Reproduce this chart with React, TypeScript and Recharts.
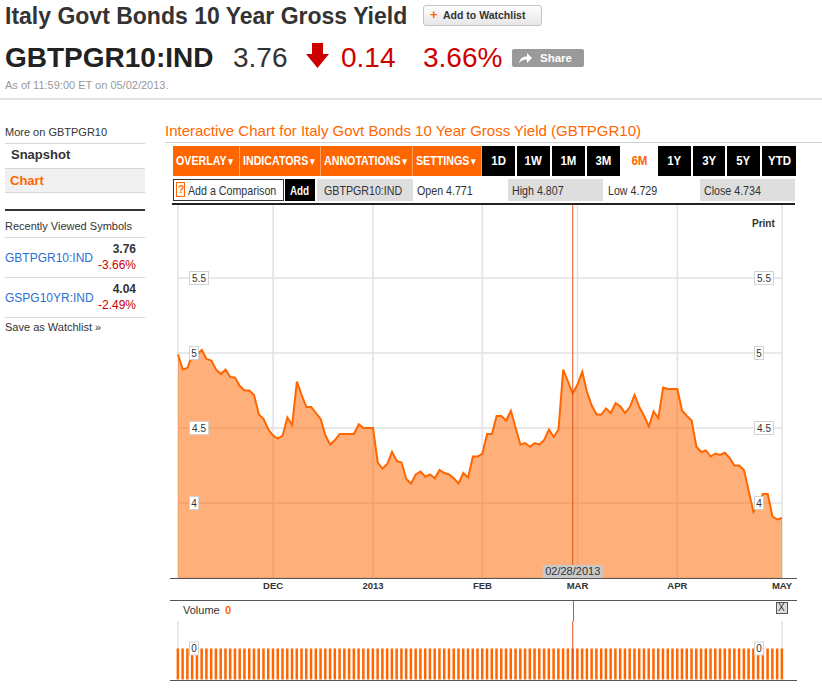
import React from "react";
import {
  AreaChart,
  Area,
  BarChart,
  Bar,
  XAxis,
  YAxis,
  CartesianGrid,
  ReferenceLine,
} from "recharts";

// daily gross yield, Nov 2012 -> May 2013 (one value per trading day)
const yields = [
  4.99, 4.89, 4.9, 4.99, 4.99, 5.02, 4.96, 4.95, 4.89, 4.86,
  4.89, 4.84, 4.835, 4.78, 4.75, 4.75, 4.72, 4.59, 4.56, 4.49,
  4.45, 4.43, 4.45, 4.57, 4.52, 4.81, 4.72, 4.64, 4.64, 4.6,
  4.56, 4.45, 4.39, 4.42, 4.46, 4.46, 4.46, 4.46, 4.525, 4.5,
  4.5, 4.5, 4.27, 4.23, 4.26, 4.34, 4.28, 4.27, 4.16, 4.13,
  4.19, 4.21, 4.175, 4.19, 4.165, 4.22, 4.2, 4.19, 4.165, 4.13,
  4.2, 4.17, 4.31, 4.31, 4.33, 4.46, 4.46,
  4.58, 4.58, 4.55, 4.615, 4.5, 4.39, 4.4, 4.375, 4.4, 4.39,
  4.42, 4.49, 4.44, 4.49, 4.89, 4.81, 4.73, 4.79, 4.875, 4.74,
  4.65, 4.59, 4.59, 4.63, 4.6, 4.665, 4.645, 4.6, 4.64, 4.72,
  4.64, 4.58, 4.51, 4.61, 4.565, 4.77, 4.76, 4.76, 4.76, 4.615,
  4.58, 4.55, 4.375, 4.34, 4.35, 4.31, 4.33, 4.32, 4.335, 4.3,
  4.25, 4.25, 4.22, 4.08, 3.94, 3.99, 4.06, 4.06, 3.91, 3.89, 3.9,
];

const volumes = [
  0, 0, 0, 0, 0, 0, 0, 0, 0, 0, 0, 0, 0, 0, 0, 0,
  0, 0, 0, 0, 0, 0, 0, 0, 0, 0, 0, 0, 0, 0, 0, 0,
  0, 0, 0, 0, 0, 0, 0, 0, 0, 0, 0, 0, 0, 0, 0, 0,
  0, 0, 0, 0, 0, 0, 0, 0, 0, 0, 0, 0, 0, 0, 0, 0,
  0, 0, 0, 0, 0, 0, 0, 0, 0, 0, 0, 0, 0, 0, 0, 0,
  0, 0, 0, 0, 0, 0, 0, 0, 0, 0, 0, 0, 0, 0, 0, 0,
  0, 0, 0, 0, 0, 0, 0, 0, 0, 0, 0, 0, 0, 0, 0, 0,
  0, 0, 0, 0, 0, 0, 0, 0, 0, 0, 0, 0, 0, 0, 0, 0,
];

const monthTicks = [0, 20, 41, 64, 84, 105, 127];
const monthLabels = ["", "DEC", "2013", "FEB", "MAR", "APR", "MAY"];
const yieldTicks = [4, 4.5, 5, 5.5];
const volumeTicks = [0];
const markerIndex = 83;
const markerDate = "02/28/2013";

const menus = ["OVERLAY", "INDICATORS", "ANNOTATIONS", "SETTINGS"];
const ranges = ["1D", "1W", "1M", "3M", "6M", "1Y", "3Y", "5Y", "YTD"];

const rows = yields.map((v, i) => ({ i, v, vol: volumes[i] }));

const ARIAL = "Arial, 'Liberation Sans', Helvetica, sans-serif";
const ORANGE = "#ff6600";
const RED = "#cc0000";

function T({ x, y, size, color = "#333", bold = false, narrow = false, children, style }: any) {
  return (
    <div
      style={{
        position: "absolute",
        left: x,
        top: y,
        fontSize: size,
        lineHeight: 1,
        color,
        fontWeight: bold ? 700 : 400,
        fontFamily: ARIAL,
        whiteSpace: "nowrap",
        transform: narrow ? "scaleX(0.82)" : undefined,
        transformOrigin: "left top",
        ...style,
      }}
    >
      {children}
    </div>
  );
}

function HLine({ x, y, w, h = 1, c = "#d6d6d6" }: any) {
  return <div style={{ position: "absolute", left: x, top: y, width: w, height: h, background: c }} />;
}

function BoxLabel({ x, y, text }: any) {
  const w = 4 + text.length * 5;
  return (
    <g>
      <rect x={x} y={y - 6.5} width={w} height={13} fill="#fff" stroke="#d2d2d2" />
      <text x={x + w / 2} y={y + 3.5} textAnchor="middle" fontSize={10} fill="#333" fontFamily={ARIAL}>
        {text}
      </text>
    </g>
  );
}

function SideTicks(props: any) {
  const { y, payload } = props;
  const text = String(payload.value);
  return (
    <g>
      <BoxLabel x={19.5} y={y} text={text} />
      <BoxLabel x={584.5} y={y} text={text} />
    </g>
  );
}

function MarkerTag(props: any) {
  const vb = props.viewBox || {};
  const bottom = vb.y + vb.height;
  return (
    <g>
      <rect x={vb.x - 30} y={bottom - 13} width={60} height={13} fill="#c9c9c9" />
      <text x={vb.x} y={bottom - 3} textAnchor="middle" fontSize={11} fill="#333" fontFamily={ARIAL}>
        {markerDate}
      </text>
    </g>
  );
}

function Header() {
  return (
    <>
      <T x={5} y={4.5} size={23} bold color="#333">Italy Govt Bonds 10 Year Gross Yield</T>
      <div
        style={{
          position: "absolute", left: 423, top: 5, width: 117, height: 19,
          border: "1px solid #c4c4c4", borderRadius: 3,
          background: "linear-gradient(#ffffff, #e6e6e6)",
        }}
      />
      <T x={430} y={8} size={13} bold color={ORANGE}>+</T>
      <T x={443} y={10} size={10.5} bold color="#333">Add to Watchlist</T>

      <T x={5} y={44.3} size={28} bold color="#222">GBTPGR10:IND</T>
      <T x={233} y={44.3} size={28} color="#333">3.76</T>
      <svg style={{ position: "absolute", left: 306, top: 43 }} width={23} height={25}>
        <polygon points="6,0 17,0 17,11 23,11 11.5,25 0,11 6,11" fill={RED} />
      </svg>
      <T x={341} y={44.3} size={28} color={RED}>0.14</T>
      <T x={423} y={44.3} size={28} color={RED}>3.66%</T>
      <div style={{ position: "absolute", left: 512, top: 49, width: 72, height: 18, background: "#9a9a9a", borderRadius: 2 }} />
      <svg style={{ position: "absolute", left: 519, top: 53 }} width={13} height={10}>
        <path d="M0,10 C1,5 4,3.5 8,3.5 L8,0 L13,5 L8,10 L8,6.5 C4.5,6.5 2,7.5 0,10 Z" fill="#fff" />
      </svg>
      <T x={540} y={53} size={11.5} bold color="#fff">Share</T>
      <T x={5} y={79.7} size={11} color="#999">As of 11:59:00 ET on 05/02/2013.</T>
      <HLine x={0} y={98} w={822} h={2} c="#e2e2e2" />
    </>
  );
}

function Sidebar() {
  return (
    <>
      <T x={5} y={127.4} size={11}>More on GBTPGR10</T>
      <HLine x={5} y={143} w={140} />
      <T x={11} y={147.7} size={13} bold>Snapshot</T>
      <HLine x={5} y={168} w={140} />
      <div style={{ position: "absolute", left: 5, top: 169, width: 140, height: 23, background: "#f1f1f1" }} />
      <T x={10} y={174} size={13} bold color={ORANGE}>Chart</T>
      <HLine x={5} y={192} w={140} />
      <HLine x={5} y={209} w={140} h={2} c="#333" />
      <T x={5} y={220.7} size={11}>Recently Viewed Symbols</T>
      <HLine x={5} y={237} w={140} />
      <T x={5} y={251.5} size={12} color="#2a6fd2">GBTPGR10:IND</T>
      <T x={0} y={243.1} size={12} bold style={{ width: 136, textAlign: "right" }}>3.76</T>
      <T x={0} y={259.1} size={12} color={RED} style={{ width: 136, textAlign: "right" }}>-3.66%</T>
      <HLine x={5} y={277} w={140} />
      <T x={5} y={291.5} size={12} color="#2a6fd2">GSPG10YR:IND</T>
      <T x={0} y={283.1} size={12} bold style={{ width: 136, textAlign: "right" }}>4.04</T>
      <T x={0} y={299.1} size={12} color={RED} style={{ width: 136, textAlign: "right" }}>-2.49%</T>
      <HLine x={5} y={317} w={140} />
      <T x={5} y={322.4} size={11}>Save as Watchlist »</T>
    </>
  );
}

function Toolbar() {
  const menuW = [67, 81, 92, 69];
  const rangeW = [33, 33, 33, 33, 34, 33, 32, 33, 34];
  return (
    <>
      <T x={165} y={123.3} size={15} color={ORANGE}>
        Interactive Chart for Italy Govt Bonds 10 Year Gross Yield (GBTPGR10)
      </T>
      <HLine x={165} y={142} w={657} c="#d0d0d0" />
      <div style={{ position: "absolute", left: 173, top: 146, height: 30, display: "flex" }}>
        {menus.map((m, k) => (
          <div
            key={m}
            style={{
              width: menuW[k], height: 30, background: ORANGE, color: "#fff",
              borderRight: "1px solid #ffa060", boxSizing: "border-box",
              fontFamily: ARIAL, fontWeight: 700, fontSize: 13, lineHeight: "30px",
              paddingLeft: 3, overflow: "hidden", whiteSpace: "nowrap",
            }}
          >
            <span style={{ display: "inline-block", transform: "scaleX(0.82)", transformOrigin: "left center" }}>
              {m}
              <span style={{ fontSize: 10 }}>▼</span>
            </span>
          </div>
        ))}
        {ranges.map((r, k) => (
          <div
            key={r}
            style={{
              width: rangeW[k], height: 30, marginLeft: k === 0 ? 0 : 2,
              background: r === "6M" ? "#fff" : "#000", color: r === "6M" ? ORANGE : "#fff",
              fontFamily: ARIAL, fontWeight: 700, fontSize: 13.5, lineHeight: "30px", textAlign: "center",
            }}
          >
            <span style={{ display: "inline-block", transform: "scaleX(0.85)" }}>{r}</span>
          </div>
        ))}
      </div>

      <div style={{ position: "absolute", left: 173, top: 179, width: 109, height: 20, border: "1px solid #333" }} />
      <div style={{ position: "absolute", left: 176, top: 182, width: 9, height: 15, border: "1px solid " + ORANGE, boxSizing: "border-box" }} />
      <T x={178} y={184.5} size={10} bold color={ORANGE}>?</T>
      <T x={188} y={184} size={13} narrow>Add a Comparison</T>
      <div style={{ position: "absolute", left: 285, top: 179, width: 30, height: 22, background: "#000" }} />
      <T x={290} y={185} size={12} bold narrow color="#fff">Add</T>
      <div style={{ position: "absolute", left: 317, top: 179, width: 96, height: 22, background: "#dedede" }} />
      <T x={324} y={184} size={13} narrow>GBTPGR10:IND</T>
      <T x={417} y={184} size={13} narrow>Open 4.771</T>
      <div style={{ position: "absolute", left: 508, top: 179, width: 95, height: 22, background: "#dedede" }} />
      <T x={512} y={184} size={13} narrow>High 4.807</T>
      <T x={608} y={184} size={13} narrow>Low 4.729</T>
      <div style={{ position: "absolute", left: 700, top: 179, width: 95, height: 22, background: "#dedede" }} />
      <T x={704} y={184} size={13} narrow>Close 4.734</T>
    </>
  );
}

export default function App() {
  return (
    <div style={{ position: "absolute", left: 0, top: 0, width: 822, height: 691, background: "#fff", fontFamily: ARIAL, overflow: "hidden" }}>
      <Header />
      <Sidebar />
      <Toolbar />

      <div style={{ position: "absolute", left: 170, top: 203 }}>
        <AreaChart width={630} height={397} data={rows} margin={{ top: 0, right: 18, bottom: 0, left: 7 }}>
          <CartesianGrid stroke="#e2e2e2" strokeWidth={1.5} />
          <XAxis
            type="number"
            dataKey="i"
            domain={[0, 127]}
            ticks={monthTicks}
            interval={0}
            tickFormatter={(v) => monthLabels[monthTicks.indexOf(v)]}
            axisLine={false}
            tickLine={false}
            tickSize={4}
            tickMargin={0}
            height={22}
            tick={{ fontSize: 9.5, fontWeight: 700, fill: "#333", fontFamily: ARIAL }}
          />
          <Area
            type="linear"
            dataKey="v"
            stroke={ORANGE}
            strokeWidth={2}
            fill={ORANGE}
            fillOpacity={0.52}
            dot={false}
            activeDot={false}
            isAnimationActive={false}
          />
          <ReferenceLine x={markerIndex} stroke="#e0521c" label={<MarkerTag />} />
          <YAxis
            type="number"
            domain={[3.5, 6]}
            ticks={yieldTicks}
            width={1}
            axisLine={false}
            tickLine={false}
            tick={(p: any) => <SideTicks {...p} />}
          />
        </AreaChart>
      </div>

      <T x={752} y={218.5} size={10} bold>Print</T>
      <HLine x={172} y={203} w={623} h={2} c="#222" />
      <HLine x={170} y={578} w={627} c="#555" />
      <HLine x={170} y={600} w={627} c="#555" />

      <T x={183} y={605} size={11}>Volume</T>
      <T x={225} y={605} size={11} bold color={ORANGE}>0</T>
      <div style={{ position: "absolute", left: 776, top: 602, width: 10, height: 10, border: "1px solid #555", background: "#ddd" }} />
      <T x={778} y={603} size={10}>X</T>

      <div style={{ position: "absolute", left: 170, top: 621 }}>
        <BarChart width={630} height={59} data={rows} margin={{ top: 0, right: 18, bottom: 0, left: 7 }}>
          <CartesianGrid stroke="#e2e2e2" strokeWidth={1.5} horizontal={false} />
          <XAxis
            type="number"
            dataKey="i"
            domain={[0, 127]}
            ticks={monthTicks}
            interval={0}
            height={1}
            tick={false}
            axisLine={false}
            tickLine={false}
          />
          <Bar dataKey="vol" fill={ORANGE} barSize={2.5} minPointSize={-31} isAnimationActive={false} />
          <ReferenceLine x={markerIndex} stroke="#e0521c" />
          <YAxis
            type="number"
            domain={[-1, 0.9]}
            ticks={volumeTicks}
            width={1}
            axisLine={false}
            tickLine={false}
            tick={(p: any) => <SideTicks {...p} />}
          />
        </BarChart>
      </div>
      <div style={{ position: "absolute", left: 573, top: 601, width: 1, height: 20, background: "#e0521c" }} />
      <HLine x={170} y={680} w={627} c="#555" />
    </div>
  );
}
